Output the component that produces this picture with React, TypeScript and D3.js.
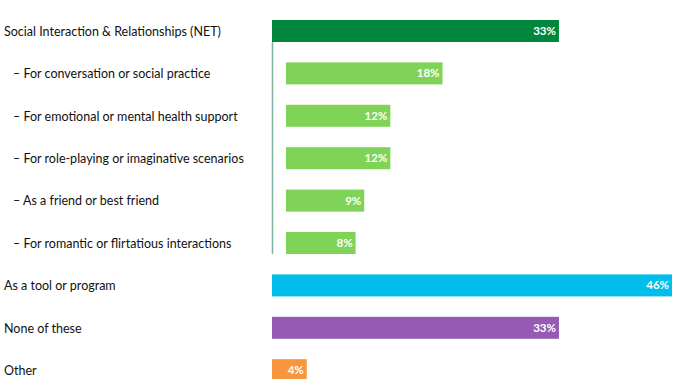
import React from "react";
import * as d3 from "d3";

const categories = [
  "Social Interaction & Relationships (NET)",
  "– For conversation or social practice",
  "– For emotional or mental health support",
  "– For role-playing or imaginative scenarios",
  "– As a friend or best friend",
  "– For romantic or flirtatious interactions",
  "As a tool or program",
  "None of these",
  "Other",
];
const values = [33, 18, 12, 12, 9, 8, 46, 33, 4];
const isSub = [false, true, true, true, true, true, false, false, false];
const colors = ["#00873d", "#7fd356", "#7fd356", "#7fd356", "#7fd356", "#7fd356", "#00bde9", "#955ab4", "#f7963f"];

export default function App() {
  const W = 674, H = 379;
  const x0 = 272, subOffset = 14;
  const x = d3.scaleLinear().domain([0, 46]).range([0, 400]);
  const bh = 22;
  const rowY = (i: number) => 20 + i * 42.4;
  return (
    <div style={{ position: "absolute", left: 0, top: 0 }}>
      <svg width={W} height={H} style={{ display: "block", fontFamily: "Lato, 'Open Sans', sans-serif" }}>
        <rect width={W} height={H} fill="#fff" />
        <line x1={x0 + 0.5} x2={x0 + 0.5} y1={rowY(0) + bh} y2={rowY(5) + bh} stroke="#7fb3a3" strokeWidth={1.5} />
        {categories.map((c, i) => {
          const bx = x0 + (isSub[i] ? subOffset : 0);
          const w = x(values[i]);
          const yy = rowY(i);
          return (
            <g key={i}>
              <text x={isSub[i] ? 13 : 4} y={yy + bh / 2 + 0.5} dy="0.35em" fontSize={12.5} fill="#111">{c}</text>
              <rect x={bx} y={yy} width={w} height={bh} fill={colors[i]} />
              <text x={bx + w - 3} y={yy + bh / 2} dy="0.35em" textAnchor="end" fontSize={11.5} fontWeight="bold" fill="#fff">{values[i]}%</text>
            </g>
          );
        })}
      </svg>
    </div>
  );
}
